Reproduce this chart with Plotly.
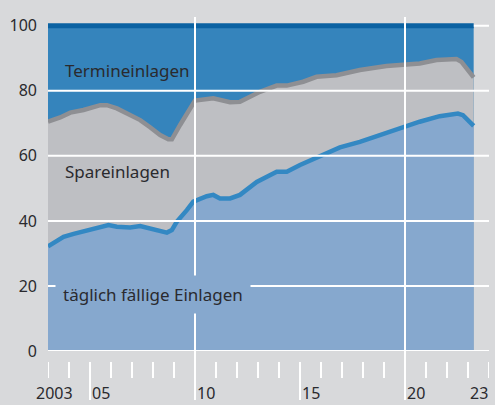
import plotly.graph_objects as go

# Anteile an den Einlagen in %
jahr_taeglich = [2003.0, 2003.74, 2004.22, 2004.85, 2005.33, 2005.88, 2006.28, 2006.91, 2007.39,
                 2007.86, 2008.34, 2008.66, 2008.9, 2009.13, 2009.61, 2009.92, 2010.56, 2010.87,
                 2011.19, 2011.67, 2012.14, 2012.94, 2013.89, 2014.37, 2015.0, 2015.95, 2016.9,
                 2017.85, 2018.8, 2019.91, 2020.7, 2021.65, 2022.52, 2022.76, 2023.27]
taeglich = [32.2, 35.1, 36.0, 37.0, 37.7, 38.7, 38.2, 38.0, 38.4,
            37.7, 36.7, 36.4, 37.2, 39.7, 43.3, 45.9, 47.6, 48.0,
            46.9, 46.9, 48.0, 52.0, 55.1, 55.1, 57.2, 60.0, 62.6,
            64.3, 66.4, 68.5, 70.5, 72.2, 73.0, 72.5, 69.2]

# täglich fällige + Spareinlagen (kumuliert)
jahr_spar = [2003.0, 2003.58, 2004.06, 2004.69, 2005.49, 2005.81, 2006.28, 2006.91, 2007.39,
             2007.86, 2008.34, 2008.73, 2008.9, 2009.29, 2009.69, 2010.0, 2010.87, 2011.67,
             2012.14, 2013.09, 2013.89, 2014.37, 2015.15, 2015.79, 2016.74, 2017.85, 2019.12,
             2019.91, 2020.7, 2021.5, 2022.45, 2022.69, 2022.96, 2023.27]
spar_kum = [70.5, 71.8, 73.3, 74.1, 75.6, 75.6, 74.6, 72.5, 71.0,
            68.8, 66.4, 65.1, 65.1, 69.5, 74.0, 77.0, 77.7, 76.5,
            76.6, 79.7, 81.6, 81.6, 82.8, 84.3, 84.8, 86.4, 87.6,
            87.9, 88.4, 89.5, 89.8, 88.9, 86.4, 84.1]

jahr_termin = [2003.0, 2023.27]
termin_kum = [100, 100]

y_ticks = [0, 20, 40, 60, 80, 100]
x_labels = ["2003", "05", "10", "15", "20", "23"]
x_label_jahre = [2003, 2005, 2010, 2015, 2020, 2023]
jahre = list(range(2003, 2025))

bg = "#d8d9db"
hellblau = "#86a8ce"
grau = "#bebfc3"
dunkelblau = "#3584bc"
text_col = "#2a2a2e"

fig = go.Figure()
fig.add_trace(go.Scatter(x=jahr_termin, y=termin_kum, fill="tozeroy", fillcolor=dunkelblau,
                         mode="lines", line=dict(width=0), hoverinfo="skip"))
fig.add_trace(go.Scatter(x=jahr_spar, y=spar_kum, fill="tozeroy", fillcolor=grau,
                         mode="lines", line=dict(color="#8e8f93", width=4.5)))
fig.add_trace(go.Scatter(x=jahr_taeglich, y=taeglich, fill="tozeroy", fillcolor=hellblau,
                         mode="lines", line=dict(color="#3388c3", width=4.5)))

shapes = []
# horizontale Gitterlinien über den Flächen
for v in y_ticks:
    shapes.append(dict(type="line", xref="paper", yref="y", x0=0, x1=1, y0=v, y1=v,
                       line=dict(color="white", width=2), layer="above"))
# dunkle Linie oben bei 100
shapes.append(dict(type="line", xref="x", yref="y", x0=jahr_termin[0], x1=jahr_termin[-1],
                   y0=100, y1=100, line=dict(color="#0b62a2", width=5), layer="above"))
# Jahresstriche
for j in jahre:
    if j in (2010, 2020):
        y0, y1 = -0.147, 1
    elif j in (2005, 2015):
        y0, y1 = -0.147, -0.033
    else:
        y0, y1 = -0.081, -0.033
    shapes.append(dict(type="line", xref="x", yref="paper", x0=j, x1=j, y0=y0, y1=y1,
                       line=dict(color="white", width=2), layer="above"))

annotations = []
for lab, j in zip(x_labels, x_label_jahre):
    annotations.append(dict(x=j + 0.5, y=-0.127, xref="x", yref="paper", text=lab,
                            showarrow=False, xanchor="center", yanchor="middle",
                            xshift=-4 if lab == "2003" else 0,
                            font=dict(size=16, color=text_col)))

annotations.append(dict(x=2003.73, y=86.4, text="Termineinlagen", showarrow=False,
                        xanchor="left", yanchor="middle", font=dict(size=17, color=text_col)))
annotations.append(dict(x=2003.71, y=55.1, text="Spareinlagen", showarrow=False,
                        xanchor="left", yanchor="middle", font=dict(size=17, color=text_col)))
annotations.append(dict(x=2003.35, y=17.5, text="täglich fällige Einlagen", showarrow=False,
                        xanchor="left", yanchor="middle", bgcolor=hellblau, borderpad=7,
                        font=dict(size=17, color=text_col)))

fig.update_layout(
    width=495, height=405,
    margin=dict(l=48, r=6, t=17, b=54, autoexpand=False),
    paper_bgcolor=bg, plot_bgcolor=bg,
    showlegend=False,
    font=dict(family="Noto Sans", color=text_col),
    shapes=shapes, annotations=annotations,
    xaxis=dict(range=[2003, 2024], showgrid=False, zeroline=False, showticklabels=False,
               ticks="", automargin=False),
    yaxis=dict(range=[0, 102.7], tickvals=y_ticks, showgrid=False, zeroline=False,
               ticks="", ticklabelstandoff=10, automargin=False,
               tickfont=dict(size=16, color=text_col)),
)

# Seitenrand des Browsers entfernen
fig.write_html("out.html", config={"displayModeBar": False},
               post_script="document.body.style.margin='0';")
